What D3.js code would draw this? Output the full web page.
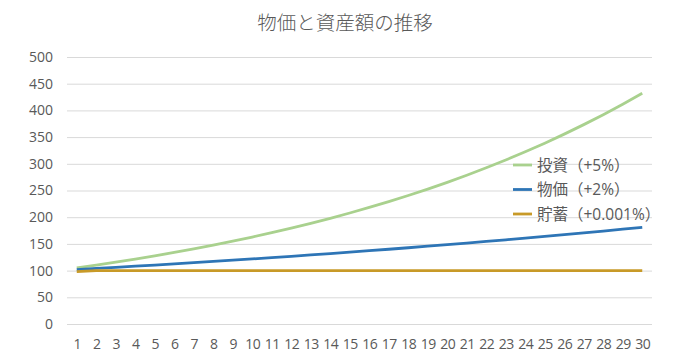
<!DOCTYPE html>
<html><head><meta charset="utf-8">
<script src="https://cdn.jsdelivr.net/npm/d3@7"></script>
<style>body{margin:0;background:#fff}</style>
</head><body>
<svg id="c" width="700" height="364"></svg>
<script>
const years = d3.range(1, 31).map(String);
const yTicks = [0,50,100,150,200,250,300,350,400,450,500];
const seriesNames = ["投資（+5%）", "物価（+2%）", "貯蓄（+0.001%）"];
const invest = [105,110.25,115.76,121.55,127.63,134.01,140.71,147.75,155.13,162.89,171.03,179.59,188.56,197.99,207.89,218.29,229.2,240.66,252.7,265.33,278.6,292.53,307.15,322.51,338.64,355.57,373.35,392.01,411.61,432.19];
const prices = [102,104.04,106.12,108.24,110.41,112.62,114.87,117.17,119.51,121.9,124.34,126.82,129.36,131.95,134.59,137.28,140.02,142.82,145.68,148.59,151.57,154.6,157.69,160.84,164.06,167.34,170.69,174.1,177.58,181.14];
const savings = [98,100,100,100,100,100,100,100,100,100,100,100,100,100,100,100,100,100,100,100,100,100,100,100,100,100,100,100,100,100];
const colors = ["#a9d18e", "#2e75b6", "#c89a28"];

const svg = d3.select("#c");
const L = 67, R = 652, T = 57, B = 324;
const x = d3.scalePoint().domain(years).range([L, R]).padding(0.5);
const y = d3.scaleLinear().domain([0, 500]).range([B, T]);
const font = "'Open Sans','Noto Sans CJK JP',sans-serif";

svg.append("text").attr("x", 345).attr("y", 30).attr("text-anchor","middle")
  .attr("font-family","'Noto Sans CJK JP',sans-serif").attr("font-weight",300)
  .attr("font-size",19.5).attr("fill","#595959")
  .text("物価と資産額の推移");

const ya = svg.append("g").attr("transform",`translate(${L},0)`)
  .call(d3.axisLeft(y).tickValues(yTicks).tickSize(-(R-L)).tickPadding(14));
ya.select(".domain").remove();
ya.selectAll("line").attr("stroke","#d9d9d9");
ya.selectAll("text").attr("fill","#595959").attr("font-size",14).attr("font-family",font);

const xa = svg.append("g").attr("transform",`translate(0,${B})`)
  .call(d3.axisBottom(x).tickSize(0).tickPadding(15));
xa.select(".domain").remove();
xa.selectAll("text").attr("fill","#595959").attr("font-size",14).attr("font-family",font)
  .attr("letter-spacing",-0.4);

const data = [invest, prices, savings];
const line = d3.line().x((d,i)=>x(years[i])).y(d=>y(d));
data.forEach((s,k)=>{
  svg.append("path").datum(s).attr("d",line).attr("fill","none")
    .attr("stroke",colors[k]).attr("stroke-width",2.8).attr("stroke-linejoin","round");
});

const lg = svg.append("g");
seriesNames.forEach((n,k)=>{
  const yy = 165 + k*24.5;
  lg.append("line").attr("x1",513).attr("x2",532).attr("y1",yy).attr("y2",yy)
    .attr("stroke",colors[k]).attr("stroke-width",2.8);
  lg.append("text").attr("x",537).attr("y",yy+5.5).attr("font-size",15.5)
    .attr("font-family",font).attr("fill","#595959").text(n);
});
</script>
</body></html>
